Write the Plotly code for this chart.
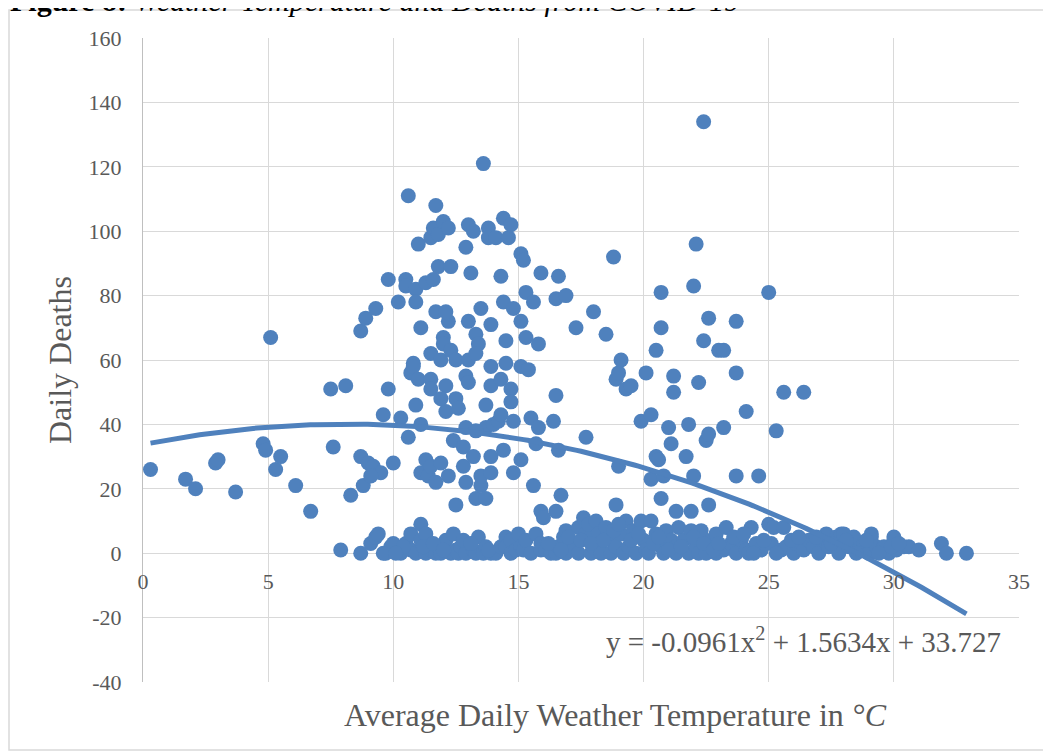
import numpy as np
import plotly.graph_objects as go

# ---- data ----
temp = [
    0.3, 1.7, 2.1, 2.9, 3.0, 3.7, 4.8, 4.9, 5.1, 5.3, 5.5, 6.1, 6.7, 7.5, 8.1, 7.6, 8.3, 8.7, 8.9, 9.3,
    8.7, 8.8, 9.0, 9.2, 9.5, 9.1, 9.6, 9.8, 9.8, 10.0, 10.2, 10.3, 10.5, 10.5, 10.6, 10.6, 10.7, 10.8, 10.8, 10.9,
    10.9, 10.9, 11.0, 11.0, 11.1, 11.1, 11.3, 11.4, 11.5, 11.7, 11.9, 12.2, 11.3, 11.1, 11.5, 11.5, 11.5, 11.5, 11.6, 11.6,
    11.7, 11.7, 11.8, 11.8, 12.0, 11.9, 12.0, 12.0, 12.2, 12.1, 12.1, 12.2, 12.3, 12.1, 11.9, 12.3, 12.5, 12.6, 12.4, 12.5,
    12.5, 12.8, 12.8, 12.9, 12.9, 13.0, 13.0, 12.9, 13.0, 13.1, 13.0, 13.2, 13.2, 12.9, 13.3, 13.3, 13.4, 13.3, 13.5, 13.5,
    13.6, 13.7, 13.5, 13.9, 13.9, 13.7, 13.3, 13.7, 13.9, 13.8, 13.8, 13.9, 13.9, 14.1, 14.0, 14.3, 14.2, 14.3, 14.3, 14.4,
    14.4, 14.4, 14.5, 14.5, 14.6, 14.7, 14.7, 14.7, 14.8, 15.1, 14.8, 14.8, 15.1, 15.1, 15.2, 15.3, 15.6, 15.3, 15.8, 15.1,
    15.4, 15.5, 15.8, 15.7, 15.6, 15.9, 15.9, 16.4, 16.5, 16.6, 16.5, 16.9, 16.6, 16.7, 16.5, 16.0,
    17.3, 17.7, 18.0, 18.5, 18.8, 18.9, 19.0, 19.0, 19.1, 19.3, 19.5, 19.9, 20.1, 20.3, 20.3, 20.5, 20.5, 20.6, 20.7, 20.7,
    20.7, 20.8, 21.0, 21.1, 21.2, 21.2, 21.3, 21.8, 21.7, 21.9, 22.0, 22.0, 22.1, 22.2, 22.4, 22.4, 22.5, 22.6, 22.6, 22.6,
    23.0, 23.2, 23.2, 23.7, 23.7, 23.7, 24.1, 24.6, 25.0, 25.3, 25.6, 26.4, 18.9,
    7.9, 8.7, 9.1, 9.3, 9.4, 9.7, 9.9, 10.1, 10.3, 10.5, 10.7, 10.7, 10.9, 11.1, 11.1, 11.3, 11.3, 11.5, 11.7, 11.8,
    11.9, 12.1, 12.3, 12.4, 12.5, 12.6, 12.7, 12.9, 13.2, 13.3, 13.4, 13.6, 13.7, 13.9, 14.1, 14.3, 14.5, 14.5, 14.7, 14.7,
    14.9, 15.0, 15.1, 15.2, 15.3, 15.5, 15.7, 15.9, 15.9, 16.1, 16.3, 16.5, 16.6, 16.8, 16.9, 16.9, 17.1, 17.2, 17.4, 17.4,
    17.6, 17.7, 17.8, 17.9, 18.0, 18.1, 18.2, 18.3, 18.3, 18.5, 18.7, 18.7, 18.9, 19.1, 19.2, 19.3, 19.4, 19.6, 19.7, 19.9,
    20.0, 20.1, 20.2, 20.3, 20.5, 20.7, 20.8, 20.9, 21.1, 21.3, 21.3, 21.4, 21.6, 21.8, 21.9, 22.1, 22.2, 22.3, 22.5, 22.7,
    22.9, 22.9, 23.2, 23.3, 23.5, 23.7, 23.9, 24.1, 24.2, 24.3, 24.5, 24.7, 25.0, 25.2, 25.1, 25.5, 25.7, 25.6, 26.0, 26.1,
    26.4, 26.6, 26.8, 27.0, 27.2, 27.3, 27.4, 27.7, 27.8, 27.9, 28.0, 28.2, 28.4, 28.6, 28.8, 29.0, 29.1, 29.1, 29.3, 29.6,
    29.8, 30.0, 30.0, 30.1, 30.4, 30.6, 31.0, 31.9, 32.1, 32.9,
    16.2, 16.7, 17.0, 17.5, 17.9, 18.4, 18.8, 19.0, 19.5, 19.8, 20.4, 20.6, 21.0, 21.5, 22.0, 22.4, 22.8, 23.0, 23.6, 24.0,
    24.4, 24.8, 25.3, 25.9, 26.2, 26.9, 27.5, 28.1, 28.5, 28.9, 29.4, 29.9, 30.2,
    10.0, 10.4, 11.2, 11.6, 12.0, 12.8, 13.1, 13.8, 9.6, 10.1,
]
deaths = [
    26, 23, 20, 28, 29, 19, 34, 32, 67, 26, 30, 21, 13, 51, 52, 33, 18, 69, 73, 76,
    30, 21, 28, 27, 25, 24, 43, 85, 51, 28, 78, 42, 85, 83, 111, 36, 56, 59, 58, 46,
    82, 78, 96, 54, 70, 25, 29, 24, 27, 22, 28, 24, 84, 40, 62, 98, 54, 51, 85, 101,
    75, 108, 99, 89, 103, 60, 67, 65, 72, 75, 44, 101, 63, 52, 48, 89, 48, 45, 35, 15,
    60, 33, 27, 95, 55, 53, 72, 39, 60, 87, 102, 100, 30, 22, 17, 68, 65, 62, 21, 76,
    121, 17, 24, 25, 30, 39, 38, 46, 52, 101, 98, 71, 58, 98, 40, 54, 41, 43, 86, 78,
    104, 32, 59, 66, 98, 102, 51, 47, 41, 29, 25, 76, 72, 93, 91, 81, 78, 67, 65, 58,
    57, 42, 39, 34, 21, 13, 87, 41, 49, 86, 79, 80, 32, 18, 13, 11,
    70, 36, 75, 68, 92, 54, 56, 27, 60, 51, 52, 41, 56, 43, 23, 63, 30, 29, 81, 70,
    17, 24, 39, 34, 50, 55, 13, 40, 30, 13, 24, 83, 96, 53, 134, 66, 35, 37, 73, 15,
    63, 63, 39, 72, 56, 24, 44, 24, 81, 38, 50, 50, 15,
    1, 0, 3, 5, 6, 0, 2, 1, 0, 3, 1, 6, 0, 9, 4, 6, 0, 1, 0, 2,
    0, 4, 0, 6, 1, 0, 2, 0, 1, 0, 5, 0, 2, 0, 0, 2, 5, 2, 4, 0,
    1, 6, 2, 1, 4, 0, 6, 3, 1, 1, 0, 0, 2, 5, 7, 0, 3, 1, 8, 0,
    11, 6, 9, 0, 2, 10, 6, 1, 0, 8, 4, 0, 2, 6, 0, 10, 2, 7, 0, 10,
    4, 1, 0, 10, 6, 2, 0, 7, 4, 2, 0, 8, 4, 0, 7, 2, 0, 7, 0, 4,
    6, 0, 1, 8, 3, 0, 4, 1, 0, 8, 3, 1, 9, 8, 3, 1, 2, 8, 0, 3,
    1, 4, 2, 0, 4, 6, 2, 5, 0, 6, 6, 2, 5, 1, 3, 0, 5, 6, 2, 2,
    0, 4, 5, 1, 2, 2, 1, 3, 0, 0,
    3, 1, 5, 4, 3, 4, 7, 9, 4, 6, 3, 5, 1, 2, 5, 3, 1, 3, 5, 6,
    0, 4, 0, 4, 5, 5, 3, 4, 0, 4, 0, 2, 3,
    3, 2, 2, 3, 1, 4, 3, 1, 0, 0,
]

# trendline shown on the chart: y = a x^2 + b x + c
trend_a, trend_b, trend_c = -0.0961, 1.5634, 33.727
trend_x_range = [0.3, 32.9]
trend_label = "y = -0.0961x<sup>2</sup> + 1.5634x + 33.727"

x_ticks = [0, 5, 10, 15, 20, 25, 30, 35]
x_tick_labels = ["0", "5", "10", "15", "20", "25", "30", "35"]
y_ticks = [-40, -20, 0, 20, 40, 60, 80, 100, 120, 140, 160]
y_tick_labels = ["-40", "-20", "0", "20", "40", "60", "80", "100", "120", "140", "160"]

x_title = "Average Daily Weather Temperature in <i>°C</i>"
y_title = "Daily Deaths"
caption = "<b>Figure 8:</b> <i>Weather Temperature and Deaths from COVID-19</i>"

BLUE = "#4F81BD"
GRID = "#D9D9D9"
TXT = "#595959"
FONT = "Liberation Serif, Times New Roman, serif"

tx = np.linspace(trend_x_range[0], trend_x_range[1], 200)
ty = trend_a * tx**2 + trend_b * tx + trend_c

fig = go.Figure()
fig.add_trace(go.Scatter(
    x=temp, y=deaths, mode="markers",
    marker=dict(color=BLUE, size=15, line=dict(width=0)),
    hoverinfo="skip", showlegend=False,
))
fig.add_trace(go.Scatter(
    x=tx, y=ty, mode="lines",
    line=dict(color=BLUE, width=5),
    hoverinfo="skip", showlegend=False,
))

OFF = 8  # page body margin
W, H = 1051 - OFF, 751 - OFF
# plot area in page pixels
L, R, T, B = 143, 1019, 38, 682
pw, ph = R - L, B - T


def px2x(px):
    return (px - L) / pw


def py2y(py):
    return (B - py) / ph


fig.update_layout(
    width=W, height=H,
    margin=dict(l=L - OFF, r=W - (R - OFF), t=T - OFF, b=H - (B - OFF), pad=0),
    paper_bgcolor="white", plot_bgcolor="white",
    font=dict(family=FONT, color=TXT, size=22),
    xaxis=dict(
        range=[0, 35], tickvals=x_ticks, ticktext=x_tick_labels,
        showgrid=True, gridcolor=GRID, gridwidth=1, zeroline=False,
        showline=False, ticks="", anchor="free", position=0.2,
        ticklabelstandoff=13, tickfont=dict(size=22, color=TXT, family=FONT),
    ),
    yaxis=dict(
        range=[-40, 160], tickvals=y_ticks, ticktext=y_tick_labels,
        showgrid=True, gridcolor=GRID, gridwidth=1, zeroline=False,
        showline=True, linecolor="#BFBFBF", linewidth=1, ticks="",
        ticklabelstandoff=16, tickfont=dict(size=22, color=TXT, family=FONT),
    ),
    shapes=[dict(type="rect", xref="paper", yref="paper",
                 x0=px2x(9), x1=px2x(1050), y0=py2y(750), y1=py2y(10),
                 line=dict(color=GRID, width=1.5), fillcolor="rgba(0,0,0,0)", layer="above")],
    annotations=[
        dict(text=x_title, xref="paper", yref="paper", x=px2x(615), y=py2y(715),
             xanchor="center", yanchor="middle", showarrow=False,
             font=dict(size=32, color=TXT, family=FONT)),
        dict(text=y_title, xref="paper", yref="paper", x=px2x(60), y=py2y(360),
             xanchor="center", yanchor="middle", textangle=-90, showarrow=False,
             font=dict(size=32, color=TXT, family=FONT)),
        dict(text=trend_label, xref="paper", yref="paper", x=px2x(1003), y=py2y(640),
             xanchor="right", yanchor="middle", showarrow=False,
             font=dict(size=29, color=TXT, family=FONT)),
        dict(text=caption, xref="paper", yref="paper", x=px2x(8), y=py2y(19),
             xanchor="left", yanchor="bottom", showarrow=False,
             font=dict(size=30, color="black", family=FONT)),
    ],
)

fig.write_html("out.html")
